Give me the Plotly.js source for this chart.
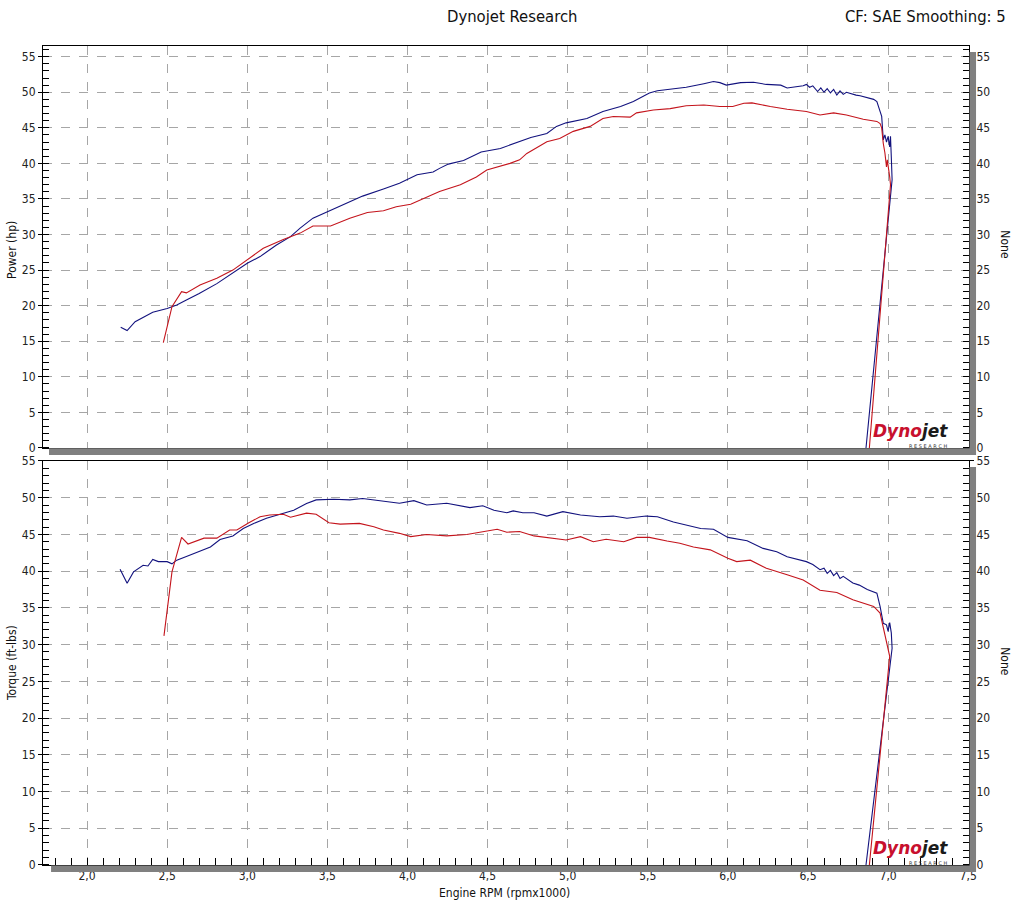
<!DOCTYPE html>
<html>
<head>
<meta charset="utf-8">
<script src="https://cdn.plot.ly/plotly-3.0.1.min.js"></script>
<style>html,body{margin:0;padding:0;background:#fff;}#chart{width:1024px;height:920px;}</style>
</head>
<body>
<div id="chart"></div>
<script>
// ---- Data ----
// Power, run 1 (blue)
var powerRpmA = [2.21,2.25,2.30,2.35,2.41,2.50,2.56,2.62,2.70,2.81,2.91,3.00,3.08,3.18,3.27,3.33,3.41,3.50,3.60,3.72,3.85,3.95,4.06,4.16,4.20,4.255,4.35,4.46,4.58,4.66,4.77,4.87,4.93,4.99,5.12,5.22,5.33,5.41,5.51,5.56,5.66,5.74,5.85,5.91,5.95,5.99,6.08,6.16,6.24,6.33,6.37,6.47,6.49,6.51,6.53,6.56,6.58,6.60,6.62,6.64,6.66,6.68,6.70,6.72,6.74,6.76,6.80,6.825,6.87,6.91,6.93,6.95,6.96,6.97,6.98,6.99,7.00,7.01,7.015,7.02,7.025,6.862];
var powerA    = [16.96,16.5,17.75,18.3,19.07,19.6,20.1,20.8,21.7,23.1,24.55,25.96,26.9,28.5,29.7,30.9,32.3,33.2,34.15,35.4,36.4,37.2,38.4,38.8,39.3,39.9,40.4,41.6,42.1,42.8,43.65,44.2,45.2,45.7,46.3,47.3,48.0,48.7,49.9,50.2,50.45,50.7,51.2,51.5,51.35,51.0,51.35,51.4,51.1,51.0,50.6,50.9,51.1,50.7,50.9,50.1,50.6,50.0,50.5,49.9,50.4,49.6,50.2,49.7,50.0,49.85,49.6,49.5,49.2,49.0,48.7,47.5,46.6,43.3,44.0,43.0,43.8,42.3,43.8,40.9,37.7,0];
// Power, run 2 (red)
var powerRpmB = [2.476,2.53,2.59,2.62,2.705,2.81,2.91,3.00,3.10,3.225,3.33,3.41,3.52,3.64,3.75,3.85,3.93,4.02,4.12,4.20,4.33,4.43,4.495,4.58,4.64,4.70,4.745,4.87,4.95,5.035,5.14,5.22,5.285,5.39,5.43,5.535,5.64,5.74,5.85,5.95,6.03,6.10,6.15,6.265,6.37,6.49,6.575,6.66,6.74,6.845,6.93,6.95,6.96,6.97,6.98,6.99,6.995,7.01,7.015,6.883];
var powerB    = [14.8,19.86,21.97,21.8,22.9,23.85,25.0,26.4,28.07,29.3,30.2,31.2,31.2,32.3,33.1,33.35,33.9,34.25,35.2,36.05,37.0,38.1,39.07,39.6,40.0,40.5,41.4,43.05,43.5,44.5,45.2,46.3,46.6,46.5,47.1,47.5,47.7,48.1,48.2,48.0,48.0,48.45,48.5,48.0,47.6,47.3,46.8,47.1,46.8,46.2,45.9,45.6,45.0,42.8,41.5,39.5,40.5,38.1,37.0,0];
// Torque, run 1 (blue)
var torqueRpmA = [2.206,2.25,2.29,2.35,2.38,2.41,2.445,2.50,2.53,2.56,2.62,2.705,2.77,2.83,2.91,2.975,3.04,3.12,3.205,3.29,3.37,3.43,3.54,3.64,3.72,3.83,3.95,4.04,4.12,4.245,4.33,4.39,4.47,4.54,4.62,4.66,4.72,4.79,4.87,4.97,5.08,5.20,5.285,5.37,5.49,5.56,5.66,5.83,5.91,6.00,6.12,6.22,6.305,6.37,6.49,6.53,6.575,6.60,6.62,6.64,6.66,6.68,6.70,6.72,6.78,6.82,6.87,6.93,6.95,6.97,6.99,7.00,7.01,7.02,7.025,6.862];
var torqueA    = [40.25,38.35,39.9,40.8,40.7,41.6,41.3,41.3,41.0,41.5,42.0,42.75,43.3,44.3,44.8,45.8,46.5,47.2,47.75,48.3,49.2,49.7,49.8,49.7,49.9,49.55,49.25,49.6,49.0,49.25,48.9,48.65,48.9,48.3,47.95,48.2,47.95,47.95,47.5,48.1,47.65,47.4,47.5,47.2,47.5,47.4,46.7,45.8,45.7,44.6,44.15,43.1,42.65,41.97,41.3,40.9,40.2,40.4,39.7,40.1,39.4,39.8,39.0,39.3,38.4,38.1,37.5,37.0,35.2,32.9,32.7,31.8,33.0,31.6,29.5,0];
// Torque, run 2 (red)
var torqueRpmB = [2.48,2.53,2.59,2.63,2.73,2.81,2.89,2.935,3.01,3.08,3.14,3.225,3.27,3.37,3.43,3.51,3.58,3.70,3.79,3.85,3.95,4.02,4.12,4.245,4.37,4.47,4.56,4.62,4.70,4.79,4.89,4.99,5.08,5.16,5.24,5.35,5.43,5.51,5.62,5.70,5.785,5.89,6.00,6.055,6.14,6.24,6.37,6.47,6.575,6.68,6.78,6.91,6.95,6.98,7.00,7.01,6.883];
var torqueB    = [31.2,39.9,44.6,43.7,44.5,44.5,45.6,45.6,46.6,47.4,47.65,47.75,47.35,47.9,47.75,46.6,46.4,46.5,46.05,45.6,45.15,44.7,45.0,44.8,45.0,45.4,45.7,45.3,45.4,44.8,44.5,44.25,44.7,44.0,44.35,44.0,44.6,44.6,44.1,43.8,43.3,42.9,41.75,41.3,41.5,40.4,39.5,38.8,37.4,37.1,36.1,35.2,34.3,31.5,29.7,28.4,0];

var xTickLabelsStart = 2.0, xTickStep = 0.5, yTickStep = 5;
var chartTitle = "Dynojet Research";
var infoText = "CF: SAE Smoothing: 5";
var powerTitle = "Power (hp)";
var torqueTitle = "Torque (ft-lbs)";
var rightTitle = "None";
var xTitle = "Engine RPM (rpmx1000)";

// ---- Styling ----
var BLUE = "#12127e", RED = "#c4141c";
var FONT = "Tahoma, 'DejaVu Sans Condensed', 'DejaVu Sans', sans-serif";
var GRID = "#a6a6a6";
var XR = [1.725, 7.505];

function line(x, y, color, xa, ya) {
  return {x: x, y: y, type: "scatter", mode: "lines", xaxis: xa, yaxis: ya,
          line: {color: color, width: 1.1}, hoverinfo: "skip", showlegend: false};
}
var traces = [
  line(powerRpmA, powerA, BLUE, "x", "y"),
  line(powerRpmB, powerB, RED, "x", "y"),
  line(torqueRpmA, torqueA, BLUE, "x2", "y2"),
  line(torqueRpmB, torqueB, RED, "x2", "y2"),
  {x: [null], y: [null], xaxis: "x", yaxis: "y3", type: "scatter", mode: "lines", showlegend: false, hoverinfo: "skip"},
  {x: [null], y: [null], xaxis: "x2", yaxis: "y4", type: "scatter", mode: "lines", showlegend: false, hoverinfo: "skip"}
];

function yAx(domain, range, anchor, side, overlay) {
  var a = {
    domain: domain, range: range, anchor: anchor, side: side,
    tickmode: "linear", tick0: 0, dtick: yTickStep,
    ticks: "outside", ticklen: 4, tickcolor: "#000", tickwidth: 1,
    minor: {dtick: 1, ticks: "inside", ticklen: 6, tickcolor: "#000", tickwidth: 1, showgrid: false},
    showline: true, linecolor: "#000", linewidth: 1,
    tickfont: {family: FONT, size: 12, color: "#222"},
    showgrid: !overlay, gridcolor: GRID, griddash: "dash", gridwidth: 1,
    zeroline: false, fixedrange: true
  };
  if (overlay) { a.overlaying = overlay; a.showgrid = false; }
  return a;
}

function logo(yPix) {
  var toP = function (p) { return (865 - p) / 819; };
  return [
    {text: "<b><i><span style='color:#c8102e'>Dyno</span><span style='color:#1a1a1a'>jet</span></i></b>", xref: "paper", yref: "paper",
     x: 0.9365, y: toP(yPix), xanchor: "center", yanchor: "bottom", showarrow: false, borderpad: 0,
     font: {family: "'DejaVu Sans', sans-serif", size: 17}},
    {text: "R E S E A R C H", xref: "paper", yref: "paper",
     x: 0.956, y: toP(yPix), xanchor: "center", yanchor: "top", showarrow: false, borderpad: 0,
     font: {family: "'DejaVu Sans', sans-serif", size: 5, color: "#333"}}
  ];
}

var shadow = "#808080";
var annotations = [
  {text: chartTitle, xref: "paper", yref: "paper", x: 0.5065, y: 1.0355, xanchor: "center", yanchor: "middle", showarrow: false,
   font: {family: FONT, size: 16.5, color: "#111"}},
  {text: infoText, xref: "paper", yref: "paper", x: 1.042, y: 1.0355, xanchor: "right", yanchor: "middle", showarrow: false,
   font: {family: FONT, size: 16.5, color: "#111"}},
  {text: powerTitle, xref: "paper", yref: "paper", x: -0.0335, y: 0.751, textangle: -90, xanchor: "center", yanchor: "middle", showarrow: false,
   font: {family: FONT, size: 12, color: "#111"}},
  {text: torqueTitle, xref: "paper", yref: "paper", x: -0.0335, y: 0.2466, textangle: -90, xanchor: "center", yanchor: "middle", showarrow: false,
   font: {family: FONT, size: 12, color: "#111"}},
  {text: rightTitle, xref: "paper", yref: "paper", x: 1.0385, y: 0.757, textangle: 90, xanchor: "center", yanchor: "middle", showarrow: false,
   font: {family: FONT, size: 12, color: "#111"}},
  {text: rightTitle, xref: "paper", yref: "paper", x: 1.0385, y: 0.248, textangle: 90, xanchor: "center", yanchor: "middle", showarrow: false,
   font: {family: FONT, size: 12, color: "#111"}},
  {text: xTitle, xref: "paper", yref: "paper", x: 0.4989, y: -0.0342, xanchor: "center", yanchor: "middle", showarrow: false,
   font: {family: FONT, size: 12, color: "#111"}}
].concat(logo(442)).concat(logo(859));

var layout = {
  width: 1024, height: 920,
  margin: {l: 43, r: 55, t: 46, b: 55},
  paper_bgcolor: "#fff", plot_bgcolor: "#fff",
  separators: ",.",
  showlegend: false,
  hovermode: false,
  xaxis: {
    domain: [0, 1], range: XR, anchor: "y",
    tickmode: "linear", tick0: xTickLabelsStart, dtick: xTickStep,
    showticklabels: false, ticks: "",
    showline: true, linecolor: "#000", mirror: true,
    showgrid: true, gridcolor: GRID, griddash: "dash", zeroline: false, fixedrange: true
  },
  xaxis2: {
    domain: [0, 1], range: XR, anchor: "y2",
    tickmode: "linear", tick0: xTickLabelsStart, dtick: xTickStep, tickformat: ".1f",
    ticks: "inside", ticklen: 7, tickcolor: "#000",
    minor: {dtick: 0.1, ticks: "inside", ticklen: 7, tickcolor: "#000", showgrid: false},
    tickfont: {family: FONT, size: 12, color: "#222"},
    showline: true, linecolor: "#000", mirror: true,
    showgrid: true, gridcolor: GRID, griddash: "dash", zeroline: false, fixedrange: true
  },
  yaxis: yAx([0.5092, 1], [0, 56.5], "x", "left"),
  yaxis2: yAx([0, 0.4933], [0, 55], "x2", "left"),
  yaxis3: yAx([0.5092, 1], [0, 56.5], "x", "right", "y"),
  yaxis4: yAx([0, 0.4933], [0, 55], "x2", "right", "y2"),
  shapes: [
    {type: "rect", xref: "paper", yref: "paper", x0: 1.0006, x1: 1.0076, y0: 0.5006, y1: 0.9927, fillcolor: shadow, line: {width: 0}},
    {type: "rect", xref: "paper", yref: "paper", x0: 0.0065, x1: 1.0076, y0: 0.5006, y1: 0.5087, fillcolor: shadow, line: {width: 0}},
    {type: "rect", xref: "paper", yref: "paper", x0: 1.0006, x1: 1.0076, y0: -0.0086, y1: 0.486, fillcolor: shadow, line: {width: 0}},
    {type: "rect", xref: "paper", yref: "paper", x0: 0.0087, x1: 1.0076, y0: -0.0086, y1: -0.0006, fillcolor: shadow, line: {width: 0}}
  ],
  annotations: annotations
};

Plotly.newPlot("chart", traces, layout, {displayModeBar: false, staticPlot: true});
</script>
</body>
</html>
